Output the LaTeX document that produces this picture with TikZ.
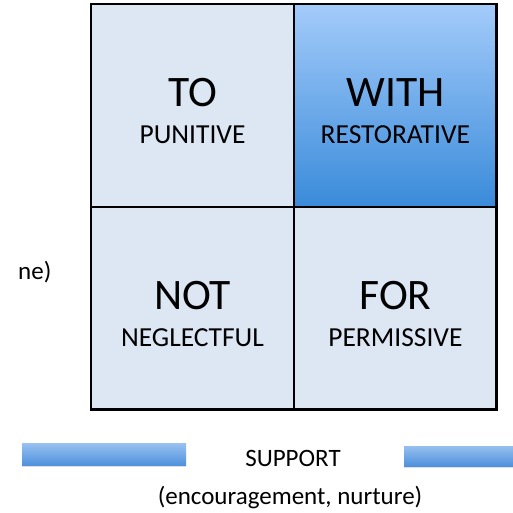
\documentclass[tikz,border=0pt]{standalone}
\usepackage{fontspec}
\setmainfont{Carlito}
\usetikzlibrary{positioning,shadows}
\definecolor{cellfill}{RGB}{221,231,243}
\definecolor{withtop}{RGB}{163,203,250}
\definecolor{withbot}{RGB}{58,139,218}
\definecolor{bartop}{RGB}{150,192,240}
\definecolor{barbot}{RGB}{78,145,220}
\tikzset{
    %Define style for the four cells
    cell/.style={
           rectangle,
           draw=black, line width=1.4pt,
           minimum width=201.5pt,
           minimum height=201.5pt,
           inner sep=0pt,
           fill=cellfill},
    % the highlighted cell
    hot/.style={
           cell,
           top color=withtop,
           bottom color=withbot},
    % Define styles for the words in the cells
    bigword/.style={
           font=\fontsize{43.5}{50}\selectfont,
           anchor=base,
           inner sep=0pt},
    smallword/.style={
           font=\fontsize{27.5}{32}\selectfont,
           anchor=base,
           inner sep=0pt},
    % Define style for the support bars
    bar/.style={
           rectangle,
           minimum height=22pt,
           inner sep=0pt,
           top color=bartop,
           bottom color=barbot,
           drop shadow={shadow xshift=0pt,shadow yshift=-1.5pt,opacity=.25}},
    axis/.style={
           font=\fontsize{25}{30}\selectfont,
           inner sep=0pt}
}
\begin{document}
\begin{tikzpicture}[x=1pt,y=-1pt,node distance=0pt]
\useasboundingbox (0,0) rectangle (512,513);
\node[cell](to) at (192.5,105.5){};
\node[hot, right=of to](with){};
\node[cell, below=of to](not){};
\node[cell, right=of not](for){};
\draw[line width=2.2pt] (to.north west) rectangle (for.south east);

% words in the cells
\foreach \c/\big/\small in {to/TO/PUNITIVE, with/WITH/RESTORATIVE,
                            not/NOT/NEGLECTFUL, for/FOR/PERMISSIVE}{
  \node[bigword](\c-big) at ([yshift=-1.5pt]\c.center){\big};
  \node[smallword](\c-small) at ([yshift=-38.5pt]\c.center){\small};
}

% support axis
\node[axis](support) at (293,458){SUPPORT};
\node[axis](nurture) at (290,497){(encouragement, nurture)};
\node[bar, minimum width=164pt](lbar) at (104,454.5){};
\node[bar, minimum width=120pt, minimum height=20pt](rbar) at (464,456){};

% cut-off control label
\node[axis, anchor=west](ctrl) at (18,272){ne)};
\end{tikzpicture}
\end{document}
